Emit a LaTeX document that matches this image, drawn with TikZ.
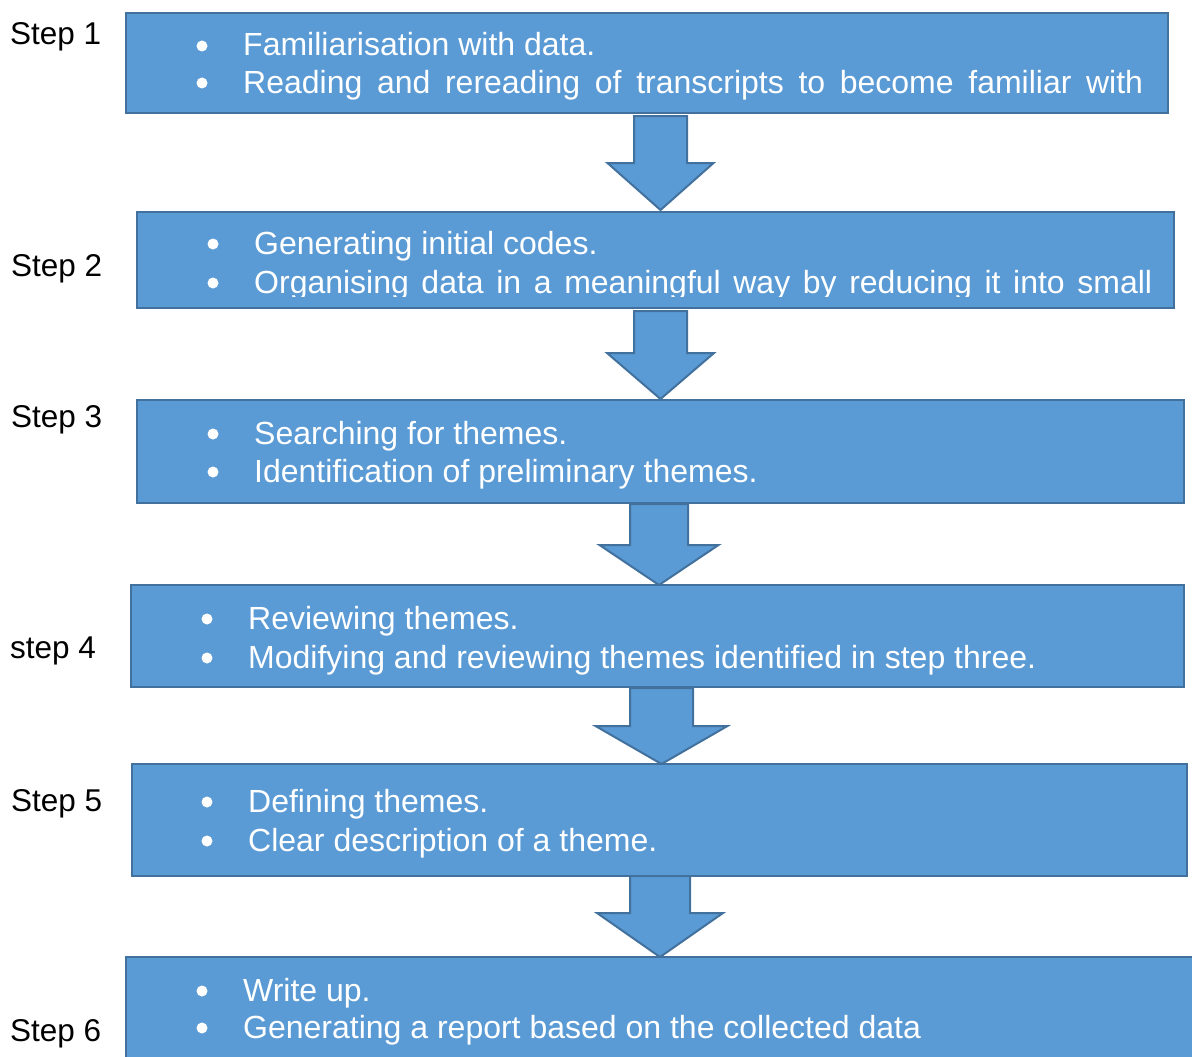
\documentclass[tikz,border=0pt]{standalone}
\usepackage{fontspec}
\setmainfont{Liberation Sans}
\definecolor{boxfill}{HTML}{5B9BD5}
\definecolor{boxline}{HTML}{41719C}
\tikzset{
  stepbox/.style={draw=boxline, fill=boxfill, line width=2pt, rectangle, inner sep=0pt, anchor=north west},
  blockarrow/.style={draw=boxline, fill=boxfill, line width=2pt, line join=miter},
  itemtext/.style={text=white, anchor=base west, inner sep=0pt, font=\fontsize{32}{38}\selectfont},
  steplabel/.style={text=black, anchor=base west, inner sep=0pt, font=\fontsize{31.5}{36}\selectfont},
}
\newcommand\blockarr[7]{% name, x centre, top, shoulder, tip, shaft half, head half
  \draw[blockarrow] (#2-#6,#3) -- (#2+#6,#3) -- (#2+#6,#4) -- (#2+#7,#4) -- (#2,#5) coordinate (#1) -- (#2-#7,#4) -- (#2-#6,#4) -- cycle;}
\newcommand\bul[2]{\fill[white] (#1,#2-10) circle (5.5);}
\begin{document}
\begin{tikzpicture}[x=1pt,y=-1pt]
\useasboundingbox (0,0) rectangle (1192,1057);
\clip (0,0) rectangle (1192,1057);
\fill[white] (0,0) rectangle (1192,1057);

% boxes
\node[stepbox, minimum width=1042pt, minimum height=100pt] (b1) at (125,12) {};
\node[stepbox, minimum width=1037pt, minimum height=96pt] (b2) at (136,211) {};
\node[stepbox, minimum width=1047pt, minimum height=103pt] (b3) at (136,399) {};
\node[stepbox, minimum width=1053pt, minimum height=102pt] (b4) at (130,584) {};
\node[stepbox, minimum width=1055pt, minimum height=112pt] (b5) at (131,763) {};
\node[stepbox, minimum width=1100pt, minimum height=140pt] (b6) at (125,956) {};

% block arrows
\blockarr{a1}{660.5}{116}{163}{210}{26.5}{53}
\blockarr{a2}{660.5}{311}{353}{399}{26.5}{53.5}
\blockarr{a3}{659}{504}{545}{585}{29}{59.5}
\blockarr{a4}{661.5}{688}{726}{764}{31.5}{66}
\blockarr{a5}{660}{876}{913}{957}{30}{63}

% step labels
\node[steplabel] (s1) at (10,44.5) {Step 1};
\node[steplabel] (s2) at (11,276) {Step 2};
\node[steplabel] (s3) at (11,427) {Step 3};
\node[steplabel] (s4) at (10,658) {step 4};
\node[steplabel] (s5) at (11,811) {Step 5};
\node[steplabel] (s6) at (10,1041) {Step 6};

% box 1
\bul{202}{56}\bul{202}{93}
\node[itemtext] (t1a) at (243,56) {Familiarisation with data.};
\node[itemtext] (t1b) at (243,93) {\makebox[900pt][s]{Reading and rereading of transcripts to become familiar with}};

% box 2
\bul{213}{254}\bul{213}{293}
\node[itemtext] (t2a) at (254,254) {Generating initial codes.};
\begin{scope}
\clip (136,211) rectangle (1173,296);
\node[itemtext] (t2b) at (254,293) {\makebox[898pt][s]{Organising data in a meaningful way by reducing it into small}};
\end{scope}

% box 3
\bul{213}{444}\bul{213}{482}
\node[itemtext] (t3a) at (254,444) {Searching for themes.};
\node[itemtext] (t3b) at (254,482) {Identification of preliminary themes.};

% box 4
\bul{207}{629}\bul{207}{668}
\node[itemtext] (t4a) at (248,629) {Reviewing themes.};
\node[itemtext] (t4b) at (248,668) {Modifying and reviewing themes identified in step three.};

% box 5
\bul{207}{812}\bul{207}{851}
\node[itemtext] (t5a) at (248,812) {Defining themes.};
\node[itemtext] (t5b) at (248,851) {Clear description of a theme.};

% box 6
\bul{202}{1001}\bul{202}{1038}
\node[itemtext] (t6a) at (243,1001) {Write up.};
\node[itemtext] (t6b) at (243,1038) {Generating a report based on the collected data};
\end{tikzpicture}
\end{document}
